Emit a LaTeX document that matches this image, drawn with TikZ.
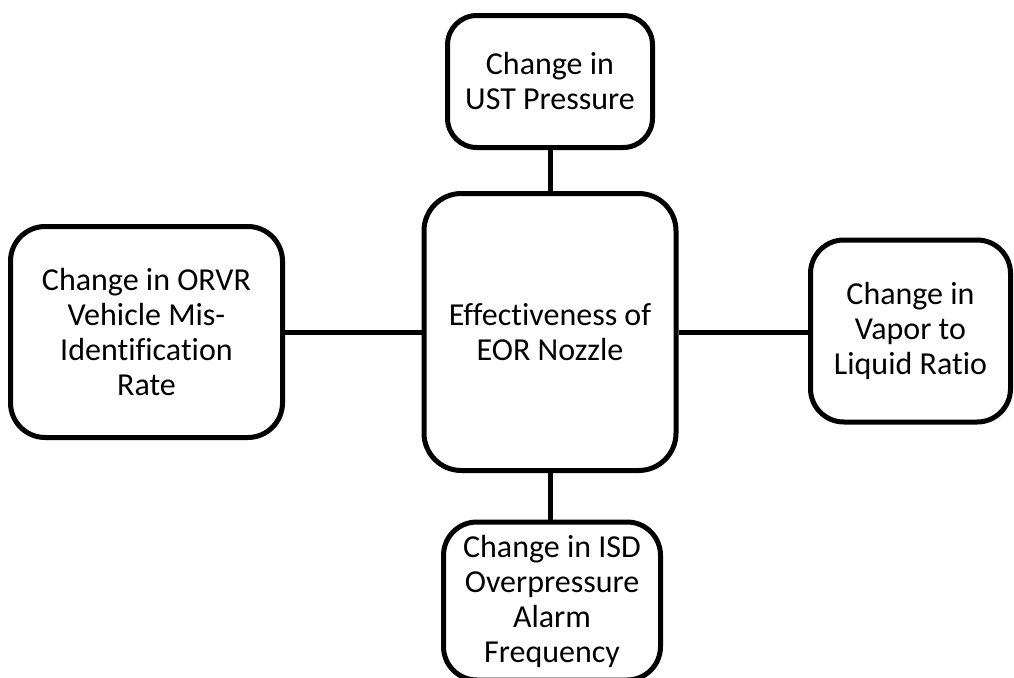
\documentclass[tikz,border=0pt]{standalone}
\usepackage{fontspec}
\setmainfont{Carlito}[Ligatures=NoCommon]
\usepackage{tikz}
\usetikzlibrary{positioning}

\begin{document}
\begin{tikzpicture}[
  x=0.75pt, y=-0.75pt,
  box/.style={draw, line width=3.75pt, align=center, inner sep=0pt,
    font=\fontsize{24}{26.25}\selectfont},
  link/.style={line width=3.75pt}
]
\useasboundingbox (0,0) rectangle (1014,678);

\node[box, rounded corners=28pt, minimum width=189pt, minimum height=207.75pt] (eor) at (550,332) {Effectiveness of\\EOR Nozzle};
\node[box, rounded corners=22pt, minimum width=153.75pt, minimum height=99pt] (ust) at (550,81.5) {Change in\\UST Pressure};
\node[box, rounded corners=26pt, minimum width=204pt, minimum height=158.25pt] (orvr) at (146.5,332) {Change in ORVR\\Vehicle Mis-\\Identification\\Rate};
\node[box, rounded corners=25pt, minimum width=150pt, minimum height=136.5pt] (vl) at (910.5,331) {Change in\\Vapor to\\Liquid Ratio};
\node[box, rounded corners=25pt, minimum width=162.75pt, minimum height=118.5pt] (isd) at (552,601) {Change in ISD\\Overpressure\\Alarm\\Frequency};

\draw[link] (ust) -- (eor);
\draw[link] (orvr) -- (eor);
\draw[link] (eor) -- (eor -| vl.west);
\draw[link] (eor.south) -- (eor.south |- isd.north);
\end{tikzpicture}
\end{document}
